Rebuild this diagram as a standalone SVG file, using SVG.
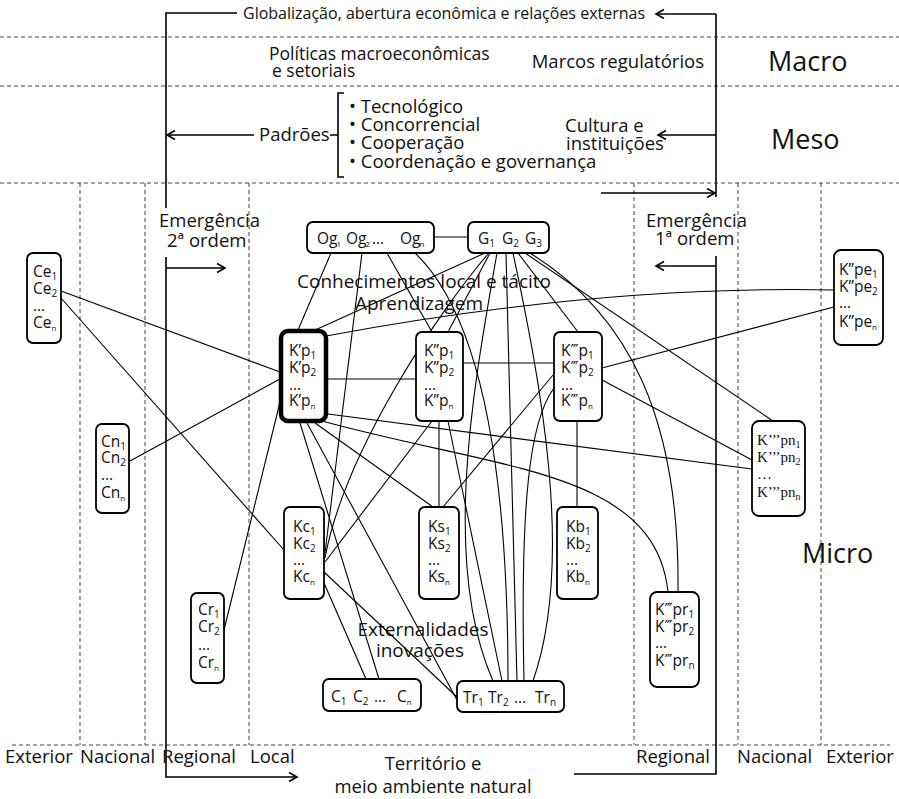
<svg xmlns="http://www.w3.org/2000/svg" width="899" height="799" viewBox="0 0 899 799">
<defs>
<marker id="ah" markerUnits="userSpaceOnUse" markerWidth="12" markerHeight="12" refX="9" refY="5" orient="auto">
<path d="M1,0.5 L9,5 L1,9.5" fill="none" stroke="#000" stroke-width="1.6"/>
</marker>
</defs>
<style>
text{font-family:"Open Sans","DejaVu Sans",sans-serif;fill:#111}
.l{font-size:18.5px}
.g{font-size:16px}
.big{font-size:27px}
.n{font-size:15.5px}
.sr{font-family:"Liberation Serif","Times New Roman",serif;font-size:15px}
.s{font-size:10px}
.sn{font-size:8px}
.box{fill:#fff;stroke:#000;stroke-width:1.8}
.kb{fill:#fff;stroke:#000;stroke-width:4.5}
.d{stroke:#444;stroke-width:1;stroke-dasharray:4,3;fill:none}
.f{stroke:#000;stroke-width:1.6;fill:none}
.a{stroke:#000;stroke-width:1.6;fill:none;marker-end:url(#ah)}
.c path,.c line{stroke:#000;stroke-width:1.1;fill:none}
</style>
<rect width="899" height="799" fill="#fff"/>
<g id="grid">
<line class="d" x1="0" y1="37" x2="899" y2="37"/>
<line class="d" x1="0" y1="86" x2="899" y2="86"/>
<line class="d" x1="0" y1="183" x2="899" y2="183"/>
<line class="d" x1="12" y1="745" x2="890" y2="745"/>
<line class="d" x1="80" y1="183" x2="80" y2="745"/>
<line class="d" x1="145" y1="183" x2="145" y2="745"/>
<line class="d" x1="249" y1="183" x2="249" y2="745"/>
<line class="d" x1="634" y1="183" x2="634" y2="745"/>
<line class="d" x1="738" y1="183" x2="738" y2="745"/>
<line class="d" x1="821" y1="183" x2="821" y2="745"/>
</g>
<g id="frame">
<path class="f" d="M237,13 H166 V208"/>
<path class="a" d="M166,257 V777 H297"/>
<path class="a" d="M254,135 H167"/>
<path class="a" d="M166,268 H225"/>
<path class="f" d="M716,14 V197"/>
<path class="a" d="M716,14 H656"/>
<path class="a" d="M716,135 H658"/>
<path class="a" d="M601,193 H715"/>
<path class="f" d="M716,256 V774 H574"/>
<path class="a" d="M716,266 H656"/>
<path class="f" stroke-width="1.2" d="M344,93 H338 V177 H344 M330,135 H338"/>
</g>
<g id="labels">
<text class="g" x="243" y="19">Globalização, abertura econômica e relações externas</text>
<text class="l" x="269" y="60" style="font-size:17.5px">Políticas macroeconômicas</text>
<text class="l" x="272" y="77" style="font-size:17.5px">e setoriais</text>
<text class="l" x="704" y="68" text-anchor="end">Marcos regulatórios</text>
<text class="big" x="768" y="71">Macro</text>
<text class="l" x="259" y="141">Padrões</text>
<text class="l" x="349" y="113">• Tecnológico</text>
<text class="l" x="349" y="131">• Concorrencial</text>
<text class="l" x="349" y="149">• Cooperação</text>
<text class="l" x="349" y="168">• Coordenação e governança</text>
<text class="l" x="565" y="132">Cultura e</text>
<text class="l" x="566" y="150">instituições</text>
<text class="big" x="771" y="149">Meso</text>
<text class="l" x="159" y="227">Emergência</text>
<text class="l" x="167" y="247">2ª ordem</text>
<text class="l" x="646" y="227">Emergência</text>
<text class="l" x="655" y="245">1ª ordem</text>
<text class="big" x="802" y="563">Micro</text>
<text class="l" x="5" y="763">Exterior</text>
<text class="l" x="80" y="763">Nacional</text>
<text class="l" x="162" y="763">Regional</text>
<text class="l" x="250" y="763">Local</text>
<text class="l" x="636" y="763">Regional</text>
<text class="l" x="737" y="763">Nacional</text>
<text class="l" x="826" y="763">Exterior</text>
<text class="l" x="433" y="770" text-anchor="middle">Território e</text>
<text class="l" x="433" y="793" text-anchor="middle">meio ambiente natural</text>
</g>
<g class="c" id="connectors">
<line x1="61" y1="291" x2="280" y2="372"/>
<line x1="61" y1="298" x2="284" y2="550"/>
<line x1="130" y1="461" x2="280" y2="379"/>
<line x1="224" y1="630" x2="281" y2="398"/>
<line x1="331" y1="253" x2="298" y2="330"/>
<line x1="362" y1="253" x2="325" y2="553"/>
<line x1="387" y1="253" x2="432" y2="332"/>
<path d="M415,253 C475,310 508,450 508,681"/>
<line x1="434" y1="237" x2="468" y2="237"/>
<line x1="485" y1="253" x2="313" y2="331"/>
<line x1="490" y1="253" x2="448" y2="332"/>
<path d="M488,254 C440,310 345,450 325,558"/>
<path d="M497,253 C475,380 440,560 493,681"/>
<line x1="506" y1="253" x2="517" y2="681"/>
<path d="M513,253 C540,380 575,560 533,681"/>
<line x1="518" y1="253" x2="578" y2="332"/>
<line x1="525" y1="253" x2="773" y2="421"/>
<path d="M530,253 C630,315 680,420 678,592"/>
<path d="M326,336 Q600,285 834,290"/>
<line x1="327" y1="379" x2="416" y2="379"/>
<line x1="328" y1="414" x2="752" y2="469"/>
<path d="M322,421 C500,470 655,470 668,592"/>
<line x1="315" y1="423" x2="433" y2="507"/>
<line x1="300" y1="423" x2="379" y2="679"/>
<line x1="307" y1="423" x2="457" y2="700"/>
<line x1="463" y1="363" x2="554" y2="363"/>
<line x1="439" y1="421" x2="439" y2="507"/>
<line x1="432" y1="421" x2="325" y2="562"/>
<line x1="448" y1="421" x2="502" y2="681"/>
<line x1="553" y1="375" x2="443" y2="507"/>
<path d="M554,388 C530,420 520,500 524,681"/>
<line x1="602" y1="368" x2="834" y2="307"/>
<line x1="602" y1="380" x2="752" y2="460"/>
<line x1="577" y1="421" x2="577" y2="507"/>
<line x1="324" y1="572" x2="457" y2="697"/>
<line x1="324" y1="583" x2="366" y2="679"/>
</g>
<g id="midlabels">
<text x="424" y="288" text-anchor="middle" style="font-size:19px">Conhecimentos local e tácito</text>
<text x="419" y="310" text-anchor="middle" style="font-size:19px">Aprendizagem</text>
<text x="423" y="636" text-anchor="middle" style="font-size:19px">Externalidades</text>
<text x="420" y="657" text-anchor="middle" style="font-size:19px">inovações</text>
</g>
<g id="Ce">
<rect class="box" x="27" y="253" width="34" height="90" rx="6"/>
<text class="n" x="33" y="277">Ce<tspan class="s" dy="3">1</tspan></text>
<text class="n" x="33" y="294">Ce<tspan class="s" dy="3">2</tspan></text>
<text class="n" x="33" y="311">…</text>
<text class="n" x="33" y="328">Ce<tspan class="sn" dy="3">n</tspan></text>
</g>
<g id="Cn">
<rect class="box" x="96" y="424" width="33" height="89" rx="6"/>
<text class="n" x="101" y="447">Cn<tspan class="s" dy="3">1</tspan></text>
<text class="n" x="101" y="463">Cn<tspan class="s" dy="3">2</tspan></text>
<text class="n" x="101" y="480">…</text>
<text class="n" x="101" y="498">Cn<tspan class="sn" dy="3">n</tspan></text>
</g>
<g id="Cr">
<rect class="box" x="191" y="593" width="33" height="90" rx="6"/>
<text class="n" x="198" y="615">Cr<tspan class="s" dy="3">1</tspan></text>
<text class="n" x="198" y="632">Cr<tspan class="s" dy="3">2</tspan></text>
<text class="n" x="198" y="650">…</text>
<text class="n" x="198" y="668">Cr<tspan class="sn" dy="3">n</tspan></text>
</g>
<g id="Og">
<rect class="box" x="307" y="222" width="127" height="31" rx="6"/>
<text class="n" x="317" y="244">Og<tspan class="sn" dx="-1" dy="3">1</tspan></text>
<text class="n" x="346" y="244">Og<tspan class="sn" dx="-1" dy="3">2</tspan></text>
<text class="n" x="372" y="244">…</text>
<text class="n" x="400" y="244">Og<tspan class="sn" dx="-1" dy="3">n</tspan></text>
</g>
<g id="G">
<rect class="box" x="468" y="222" width="81" height="31" rx="6"/>
<text class="n" x="478" y="244">G<tspan class="s" dy="3">1</tspan></text>
<text class="n" x="502" y="244">G<tspan class="s" dy="3">2</tspan></text>
<text class="n" x="525" y="244">G<tspan class="s" dy="3">3</tspan></text>
</g>
<g id="Kp1">
<rect class="kb" x="281" y="331" width="45" height="90" rx="7"/>
<text class="n" x="289" y="356">K’p<tspan class="s" dy="3">1</tspan></text>
<text class="n" x="289" y="373">K’p<tspan class="s" dy="3">2</tspan></text>
<text class="n" x="289" y="390">…</text>
<text class="n" x="289" y="406">K’p<tspan class="sn" dy="3">n</tspan></text>
</g>
<g id="Kp2">
<rect class="box" x="416" y="332" width="47" height="89" rx="6"/>
<text class="n" x="424" y="356">K”p<tspan class="s" dy="3">1</tspan></text>
<text class="n" x="424" y="373">K”p<tspan class="s" dy="3">2</tspan></text>
<text class="n" x="424" y="390">…</text>
<text class="n" x="424" y="406">K”p<tspan class="sn" dy="3">n</tspan></text>
</g>
<g id="Kp3">
<rect class="box" x="554" y="332" width="48" height="89" rx="6"/>
<text class="n" x="561" y="356">K‴p<tspan class="s" dy="3">1</tspan></text>
<text class="n" x="561" y="373">K‴p<tspan class="s" dy="3">2</tspan></text>
<text class="n" x="561" y="390">…</text>
<text class="n" x="561" y="406">K‴p<tspan class="sn" dy="3">n</tspan></text>
</g>
<g id="Kc">
<rect class="box" x="284" y="507" width="40" height="92" rx="6"/>
<text class="n" x="293" y="532">Kc<tspan class="s" dy="3">1</tspan></text>
<text class="n" x="293" y="549">Kc<tspan class="s" dy="3">2</tspan></text>
<text class="n" x="293" y="565">…</text>
<text class="n" x="293" y="582">Kc<tspan class="sn" dy="3">n</tspan></text>
</g>
<g id="Ks">
<rect class="box" x="419" y="507" width="40" height="92" rx="6"/>
<text class="n" x="428" y="532">Ks<tspan class="s" dy="3">1</tspan></text>
<text class="n" x="428" y="549">Ks<tspan class="s" dy="3">2</tspan></text>
<text class="n" x="428" y="565">…</text>
<text class="n" x="428" y="582">Ks<tspan class="sn" dy="3">n</tspan></text>
</g>
<g id="Kb">
<rect class="box" x="557" y="507" width="41" height="92" rx="6"/>
<text class="n" x="566" y="532">Kb<tspan class="s" dy="3">1</tspan></text>
<text class="n" x="566" y="549">Kb<tspan class="s" dy="3">2</tspan></text>
<text class="n" x="566" y="565">…</text>
<text class="n" x="566" y="582">Kb<tspan class="sn" dy="3">n</tspan></text>
</g>
<g id="C">
<rect class="box" x="323" y="679" width="98" height="32" rx="6"/>
<text class="n" x="331" y="702">C<tspan class="s" dy="3">1</tspan></text>
<text class="n" x="353" y="702">C<tspan class="s" dy="3">2</tspan></text>
<text class="n" x="374" y="702">…</text>
<text class="n" x="397" y="702">C<tspan class="sn" dy="3">n</tspan></text>
</g>
<g id="Tr">
<rect class="box" x="457" y="681" width="107" height="31" rx="6"/>
<text class="n" x="463" y="703">Tr<tspan class="s" dy="3">1</tspan></text>
<text class="n" x="488" y="703">Tr<tspan class="s" dy="3">2</tspan></text>
<text class="n" x="514" y="703">…</text>
<text class="n" x="535" y="703">Tr<tspan class="s" dy="3">n</tspan></text>
</g>
<g id="Kpe">
<rect class="box" x="834" y="250" width="49" height="95" rx="7"/>
<text class="n" x="839" y="275">K”pe<tspan class="s" dy="3">1</tspan></text>
<text class="n" x="839" y="292">K”pe<tspan class="s" dy="3">2</tspan></text>
<text class="n" x="839" y="308">…</text>
<text class="n" x="839" y="327">K”pe<tspan class="sn" dy="3">n</tspan></text>
</g>
<g id="Kpn">
<rect class="box" x="752" y="421" width="53" height="95" rx="7"/>
<text class="sr" x="757" y="445">K’’’pn<tspan class="s" dy="3">1</tspan></text>
<text class="sr" x="757" y="462">K’’’pn<tspan class="s" dy="3">2</tspan></text>
<text class="sr" x="757" y="479">…</text>
<text class="sr" x="757" y="497">K’’’pn<tspan class="s" dy="3">n</tspan></text>
</g>
<g id="Kpr">
<rect class="box" x="650" y="592" width="49" height="95" rx="7"/>
<text class="n" x="655" y="615">K‴pr<tspan class="s" dy="3">1</tspan></text>
<text class="n" x="655" y="632">K‴pr<tspan class="s" dy="3">2</tspan></text>
<text class="n" x="655" y="648">…</text>
<text class="n" x="655" y="666">K‴pr<tspan class="s" dy="3">n</tspan></text>
</g>
</svg>
